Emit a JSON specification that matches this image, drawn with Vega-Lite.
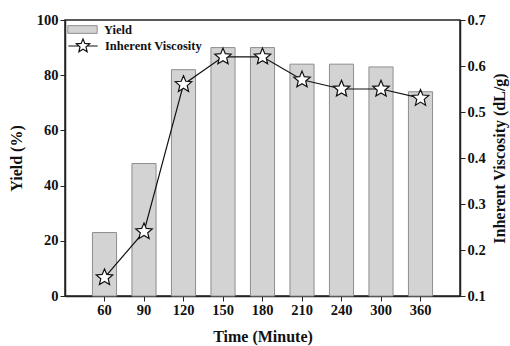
{
  "$schema": "https://vega.github.io/schema/vega-lite/v6.json",
  "width": 395,
  "height": 276,
  "autosize": {"type": "none"},
  "padding": {"left": 65, "top": 20, "right": 50, "bottom": 50},
  "config": {
    "font": "Liberation Serif",
    "view": {"stroke": "#222", "strokeWidth": 1.5},
    "axis": {
      "grid": false,
      "domainColor": "#222",
      "domainWidth": 1.5,
      "tickColor": "#222",
      "tickSize": 5,
      "labelFont": "Liberation Serif",
      "labelFontWeight": "bold",
      "labelFontSize": 14.5,
      "labelColor": "#111",
      "titleFont": "Liberation Serif",
      "titleFontWeight": "bold",
      "titleFontSize": 16,
      "titleColor": "#111"
    },
    "legend": {
      "labelFont": "Liberation Serif",
      "labelFontWeight": "bold",
      "labelFontSize": 12.5,
      "labelColor": "#111",
      "padding": 0
    }
  },
  "data": {
    "values": [
      {"time": "60", "yield": 23, "visc": 0.14},
      {"time": "90", "yield": 48, "visc": 0.24},
      {"time": "120", "yield": 82, "visc": 0.56},
      {"time": "150", "yield": 90, "visc": 0.62},
      {"time": "180", "yield": 90, "visc": 0.62},
      {"time": "210", "yield": 84, "visc": 0.57},
      {"time": "240", "yield": 84, "visc": 0.55},
      {"time": "300", "yield": 83, "visc": 0.55},
      {"time": "360", "yield": 74, "visc": 0.53}
    ]
  },
  "encoding": {
    "x": {
      "field": "time",
      "type": "ordinal",
      "sort": null,
      "scale": {"paddingInner": 0.39, "paddingOuter": 0.695},
      "axis": {"title": "Time (Minute)", "labelAngle": 0, "titlePadding": 12}
    }
  },
  "layer": [
    {
      "mark": {"type": "bar", "stroke": "#8e8e8e", "strokeWidth": 1},
      "encoding": {
        "y": {
          "field": "yield",
          "type": "quantitative",
          "scale": {"domain": [0, 100]},
          "axis": {"title": "Yield (%)", "values": [0, 20, 40, 60, 80, 100], "titlePadding": 12}
        },
        "fill": {
          "datum": "Yield",
          "type": "nominal",
          "scale": {"range": ["#d3d3d3"]},
          "legend": {
            "title": null,
            "orient": "none",
            "legendX": 10,
            "legendY": 2,
            "symbolType": "M-2.1,-0.55H2.1V0.55H-2.1Z",
            "symbolSize": 196,
            "symbolStrokeColor": "#8e8e8e",
            "symbolStrokeWidth": 1,
            "labelOffset": 14
          }
        }
      }
    },
    {
      "mark": {"type": "line", "color": "#111", "strokeWidth": 1.2},
      "encoding": {
        "y": {
          "field": "visc",
          "type": "quantitative",
          "scale": {"domain": [0.1, 0.7]},
          "axis": {
            "title": "Inherent Viscosity (dL/g)",
            "orient": "right",
            "values": [0.1, 0.2, 0.3, 0.4, 0.5, 0.6, 0.7],
            "format": ".1f",
            "titleAngle": 270,
            "titlePadding": 22
          }
        },
        "stroke": {
          "datum": "Inherent Viscosity",
          "type": "nominal",
          "scale": {"range": ["#111"]},
          "legend": {
            "title": null,
            "orient": "none",
            "legendX": 10,
            "legendY": 18,
            "symbolType": "M-2.1,0H-0.6M0.6,0H2.1M0,-1L0.2645,-0.364L0.951,-0.309L0.428,0.139L0.588,0.809L0,0.45L-0.588,0.809L-0.428,0.139L-0.951,-0.309L-0.2645,-0.364Z",
            "symbolSize": 196,
            "symbolFillColor": "white",
            "symbolStrokeColor": "#111",
            "symbolStrokeWidth": 1.2,
            "labelOffset": 14
          }
        }
      }
    },
    {
      "mark": {
        "type": "point",
        "shape": "M0,-1L0.2645,-0.364L0.951,-0.309L0.428,0.139L0.588,0.809L0,0.45L-0.588,0.809L-0.428,0.139L-0.951,-0.309L-0.2645,-0.364Z",
        "size": 300,
        "filled": true,
        "fill": "white",
        "stroke": "#111",
        "strokeWidth": 1.2,
        "opacity": 1
      },
      "encoding": {
        "y": {"field": "visc", "type": "quantitative", "scale": {"domain": [0.1, 0.7]}, "axis": null}
      }
    }
  ],
  "resolve": {"scale": {"y": "independent"}}
}
